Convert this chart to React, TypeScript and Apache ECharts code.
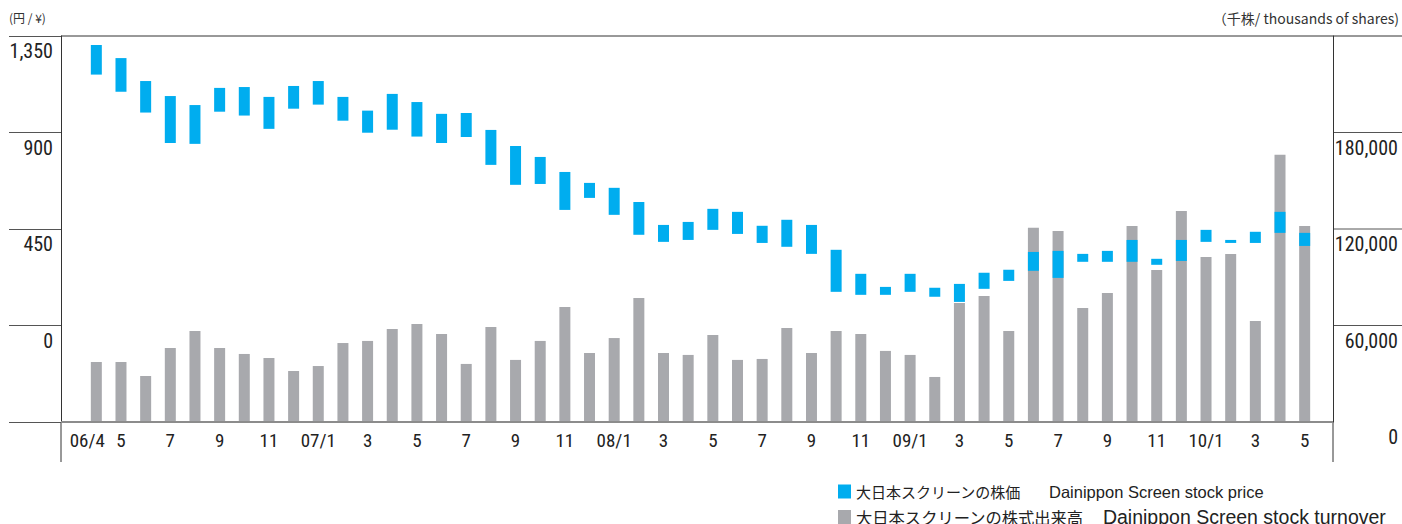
import React, { useEffect, useRef } from "react";
import * as echarts from "echarts";

const months = [
  "06/4", "5", "6", "7", "8", "9", "10", "11", "12",
  "07/1", "2", "3", "4", "5", "6", "7", "8", "9", "10", "11", "12",
  "08/1", "2", "3", "4", "5", "6", "7", "8", "9", "10", "11", "12",
  "09/1", "2", "3", "4", "5", "6", "7", "8", "9", "10", "11", "12",
  "10/1", "2", "3", "4", "5",
];

const priceHigh = [
  1308, 1247, 1140, 1070, 1028, 1108, 1112, 1066, 1117, 1140,
  1066, 1002, 1080, 1042, 987, 991, 912, 837, 786, 716,
  665, 642, 576, 469, 483, 544, 530, 465, 493, 469,
  353, 241, 180, 241, 176, 194, 246, 260, 343, 348,
  334, 348, 399, 311, 399, 446, 399, 437, 530, 432,
];

const priceLow = [
  1170, 1090, 993, 851, 847, 997, 979, 917, 1011, 1030,
  955, 899, 913, 881, 851, 879, 749, 656, 660, 539,
  595, 516, 423, 390, 399, 446, 427, 385, 367, 334,
  157, 143, 143, 157, 134, 110, 171, 208, 255, 222,
  297, 297, 297, 283, 301, 390, 385, 385, 432, 371,
];

const volume = [
  37300, 37300, 28600, 46000, 56600, 46000, 42300, 39800, 31700, 34800,
  49100, 50400, 57800, 61000, 54700, 36100, 59100, 38600, 50400, 71500,
  42900, 52200, 77100, 42900, 41700, 54100, 38600, 39200, 58500, 42900,
  56600, 54700, 44200, 41700, 28000, 74000, 78400, 56600, 120700, 118800,
  70900, 80200, 121900, 94500, 131200, 102600, 104500, 62800, 166100, 121900,
];

const priceTicks = [-450, 0, 450, 900, 1350];
const volumeTicks = [0, 60000, 120000, 180000, 240000];

const PRICE_JP = "大日本スクリーンの株価";
const PRICE_EN = "Dainippon Screen stock price";
const VOLUME_JP = "大日本スクリーンの株式出来高";
const VOLUME_EN = "Dainippon Screen stock turnover";
const PRICE_NAME = PRICE_JP + " " + PRICE_EN;
const VOLUME_NAME = VOLUME_JP + " " + VOLUME_EN;

const BLUE = "#00adef";
const GRAY = "#a8a9ad";
const NARROW = "'Liberation Sans Narrow', 'Arial Narrow', 'Roboto Condensed', 'DejaVu Sans Condensed', sans-serif";
const JP = "'Noto Sans CJK JP', 'Noto Sans', sans-serif";
const LATIN = "'Liberation Sans', Arial, Helvetica, sans-serif";

const GRID_LEFT = 84;
const GRID_RIGHT = 85;
const LEFT_OFFSET = 23;
const RIGHT_OFFSET = 16;
const W = 1402;
const H = 524;

export default function App() {
  const ref = useRef<HTMLDivElement>(null);

  useEffect(() => {
    if (!ref.current) return;
    const chart = echarts.init(ref.current, null, { renderer: "svg" });
    const fmt = (v: number) => v.toLocaleString("en-US");

    const legendBase = {
      orient: "horizontal",
      left: 838,
      itemWidth: 13,
      itemHeight: 14,
      icon: "rect",
      padding: 0,
    };

    chart.setOption({
      animation: false,
      grid: { left: GRID_LEFT, right: GRID_RIGHT, top: 36, bottom: 102 },
      legend: [
        {
          ...legendBase,
          top: 483,
          data: [PRICE_NAME],
          formatter: () => "{j|" + PRICE_JP + "}{e|" + PRICE_EN + "}",
          textStyle: {
            color: "#222",
            rich: {
              j: { fontSize: 15, fontFamily: JP, color: "#222", lineHeight: 16 },
              e: { fontSize: 16.5, fontFamily: LATIN, color: "#222", padding: [0, 0, 0, 28], lineHeight: 16 },
            },
          },
        },
        {
          ...legendBase,
          top: 507,
          data: [VOLUME_NAME],
          formatter: () => "{j|" + VOLUME_JP + "}{e|" + VOLUME_EN + "}",
          textStyle: {
            color: "#222",
            rich: {
              j: { fontSize: 16.3, fontFamily: JP, color: "#222", lineHeight: 17 },
              e: { fontSize: 19.5, fontFamily: LATIN, color: "#222", padding: [0, 0, 0, 19], lineHeight: 17 },
            },
          },
        },
      ],
      xAxis: {
        type: "category",
        data: months,
        axisLine: { show: false },
        axisTick: { show: false },
        axisLabel: {
          interval: (i: number) => i === 0 || i % 2 === 1,
          formatter: (v: string, i: number) => (i === 0 ? "{first|" + v + "}" : v),
          rich: {
            first: { fontSize: 19, fontFamily: NARROW, color: "#222", padding: [0, 18, 0, 0] },
          },
          fontSize: 19,
          fontFamily: NARROW,
          color: "#222",
          margin: 9,
        },
        splitLine: { show: false },
      },
      yAxis: [
        {
          type: "value",
          min: -450,
          max: 1350,
          interval: 450,
          position: "left",
          offset: LEFT_OFFSET,
          axisLine: { show: true, lineStyle: { color: "#333", width: 1 } },
          axisTick: { show: true, inside: false, length: 52, lineStyle: { color: "#555", width: 1 } },
          axisLabel: {
            formatter: (v: number) => (v < 0 ? "" : fmt(v)),
            fontSize: 20,
            fontFamily: NARROW,
            color: "#222",
            margin: 8,
            verticalAlign: "top",
            padding: [5, 0, 0, 0],
          },
          splitLine: { show: false },
        },
        {
          type: "value",
          min: 0,
          max: 240000,
          interval: 60000,
          position: "right",
          offset: RIGHT_OFFSET,
          axisLine: { show: true, lineStyle: { color: "#333", width: 1 } },
          axisTick: { show: false },
          axisLabel: {
            formatter: (v: number) => (v >= 240000 ? "" : fmt(v)),
            fontSize: 20,
            fontFamily: NARROW,
            color: "#222",
            margin: 65,
            align: "right",
            verticalAlign: "top",
            padding: [5, 0, 0, 0],
          },
          splitLine: { show: false },
        },
      ],
      series: [
        {
          name: VOLUME_NAME,
          type: "bar",
          yAxisIndex: 1,
          data: volume,
          barWidth: 11,
          barGap: "-100%",
          itemStyle: { color: GRAY },
        },
        {
          name: "base",
          type: "bar",
          yAxisIndex: 0,
          stack: "price",
          data: priceLow,
          barWidth: 11,
          barGap: "-100%",
          itemStyle: { color: "transparent" },
          silent: true,
        },
        {
          name: PRICE_NAME,
          type: "bar",
          yAxisIndex: 0,
          stack: "price",
          data: priceHigh.map((h, i) => h - priceLow[i]),
          barWidth: 11,
          barGap: "-100%",
          itemStyle: { color: BLUE },
        },
      ],
    });

    const yP = (v: number) => chart.convertToPixel({ yAxisIndex: 0 }, v) as number;
    const yV = (v: number) => chart.convertToPixel({ yAxisIndex: 1 }, v) as number;
    const xL = GRID_LEFT - LEFT_OFFSET;
    const xR = W - GRID_RIGHT + RIGHT_OFFSET;
    const topY = yP(priceTicks[priceTicks.length - 1]);
    const botY = yP(priceTicks[0]);

    const els: any[] = [];
    els.push({
      type: "line",
      shape: { x1: xL, y1: topY, x2: W, y2: topY },
      style: { stroke: "#333", lineWidth: 1 },
    });
    volumeTicks.slice(1, -1).forEach((v) => {
      const y = yV(v);
      els.push({
        type: "line",
        shape: { x1: xR, y1: y, x2: W, y2: y },
        style: { stroke: "#555", lineWidth: 1 },
      });
    });
    els.push({
      type: "line",
      shape: { x1: xL, y1: botY, x2: xR, y2: botY },
      style: { stroke: "#8c8c8c", lineWidth: 2 },
      z: 10,
    });
    els.push({
      type: "line",
      shape: { x1: xL, y1: botY, x2: xL, y2: botY + 40 },
      style: { stroke: "#333", lineWidth: 1 },
    });
    els.push({
      type: "line",
      shape: { x1: xR, y1: botY, x2: xR, y2: botY + 40 },
      style: { stroke: "#333", lineWidth: 1 },
    });
    els.push({
      type: "text",
      left: 9,
      top: 11,
      style: { text: "(円 / ¥)", fontSize: 12, fontFamily: JP, fill: "#333" },
    });
    els.push({
      type: "text",
      right: 3,
      top: 11,
      style: { text: "（千株/ thousands of shares)", fontSize: 14, fontFamily: JP, fill: "#333" },
    });

    chart.setOption({ graphic: els });

    return () => chart.dispose();
  }, []);

  return (
    <div
      ref={ref}
      style={{ position: "absolute", left: 0, top: 0, width: W, height: H, background: "#fff" }}
    />
  );
}
